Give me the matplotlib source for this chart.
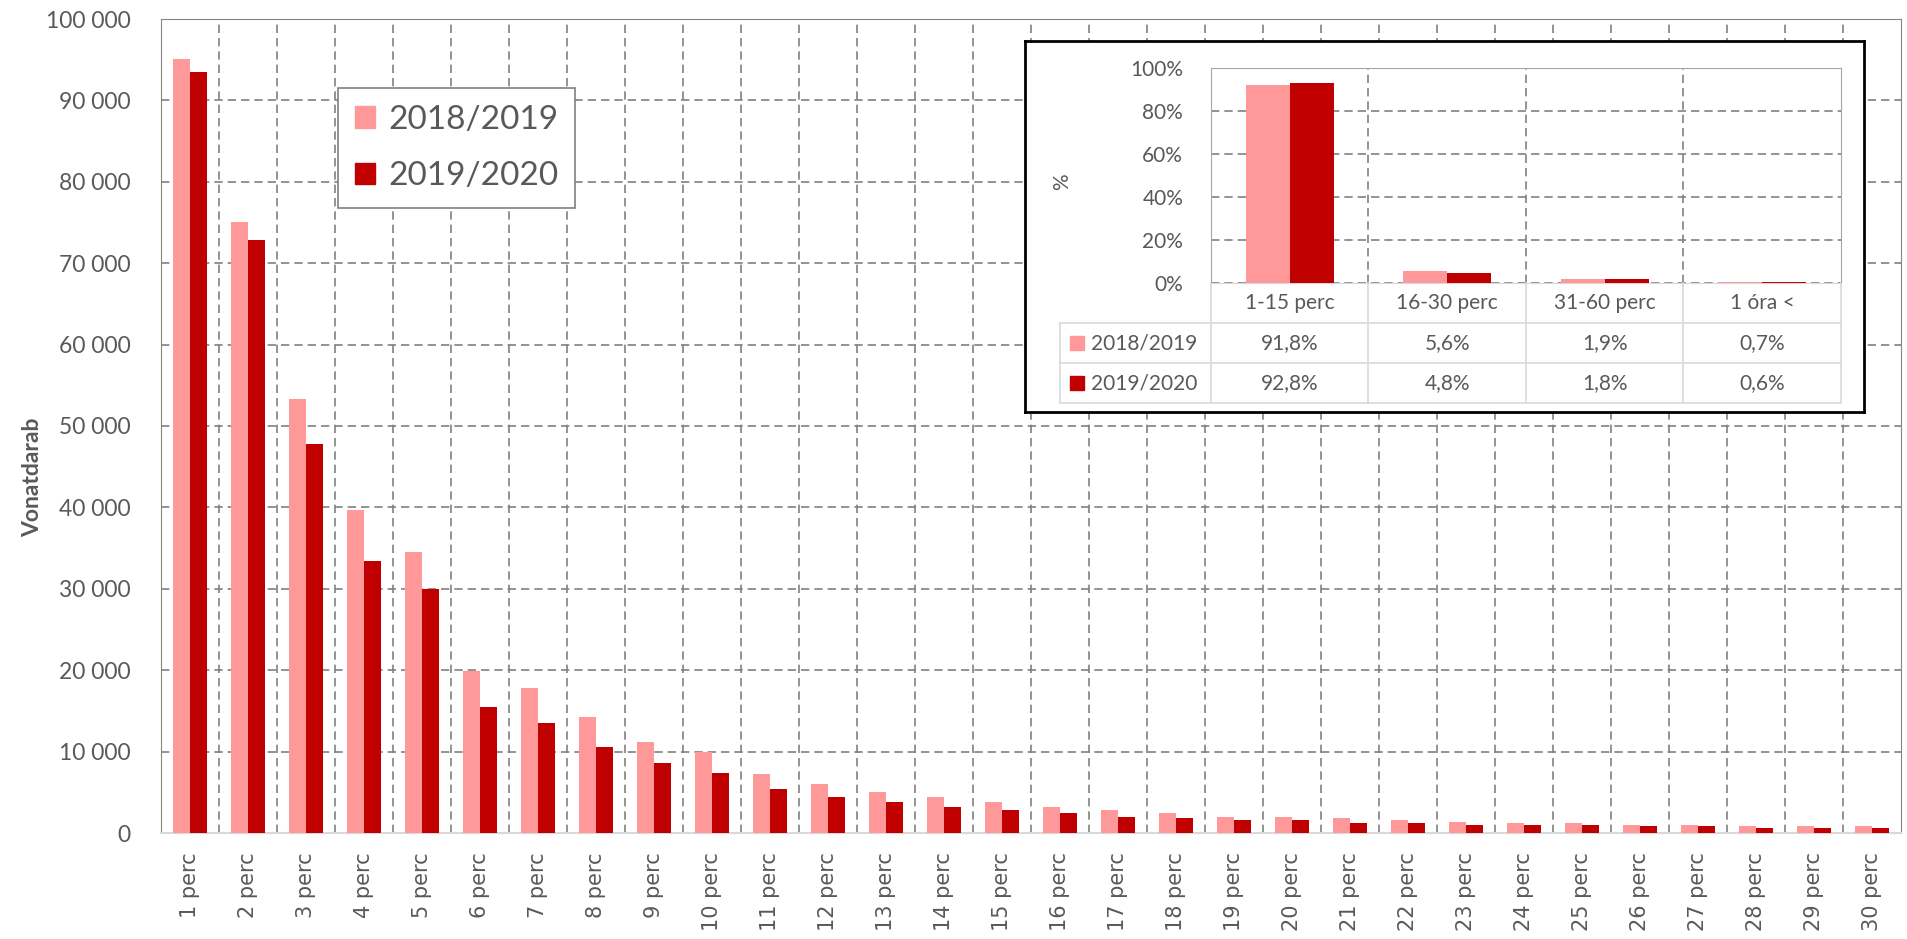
import numpy as np
import matplotlib.pyplot as plt
from matplotlib.transforms import blended_transform_factory
from matplotlib.patches import Patch

# main chart data: number of trains per delay minute
cats = [str(i) + " perc" for i in range(1, 31)]
v1819 = [95050, 75100, 53300, 39650, 34500, 19900, 17850, 14300, 11150, 9950,
         7230, 6080, 5040, 4470, 3850, 3230, 2850, 2430, 2020, 2020,
         1810, 1610, 1400, 1240, 1240, 1030, 1030, 820, 820, 820]
v1920 = [93500, 72900, 47850, 33450, 29950, 15500, 13500, 10600, 8550, 7400,
         5460, 4470, 3850, 3230, 2850, 2430, 1980, 1810, 1610, 1610,
         1240, 1240, 1030, 1030, 1030, 820, 820, 620, 620, 620]
series = ["2018/2019", "2019/2020"]

# inset data: share per delay band
bands = ["1-15 perc", "16-30 perc", "31-60 perc", "1 óra <"]
p1819 = [91.8, 5.6, 1.9, 0.7]
p1920 = [92.8, 4.8, 1.8, 0.6]

pink = "#FF9999"
dark = "#C00000"
txt = "#595959"
grid_kw = dict(color="#808080", linestyle=(0, (5, 3)), linewidth=1.2)

plt.rcParams["font.family"] = ["Lato", "DejaVu Sans"]

fig = plt.figure(figsize=(19.08, 9.39), dpi=100)

###################### main bar chart ######################
ax = fig.add_axes([161/1908, 1 - 833/939, 1740/1908, 814/939])
x = np.arange(len(cats))
ax.bar(x - 0.15, v1819, width=0.3, color=pink, label=series[0], zorder=3)
ax.bar(x + 0.15, v1920, width=0.3, color=dark, label=series[1], zorder=3)

ax.set_xlim(-0.5, len(cats) - 0.5)
ax.set_ylim(0, 100000)
ax.set_yticks(np.arange(0, 100001, 10000))
ax.set_yticklabels([f"{v:,.0f}".replace(",", " ") for v in range(0, 100001, 10000)],
                   fontsize=16.5, color=txt)
ax.set_xticks(x)
ax.set_xticklabels(cats, rotation=90, fontsize=15, color=txt, family="DejaVu Sans")
ax.set_xticks(np.arange(0.5, len(cats) - 1, 1), minor=True)
ax.tick_params(axis="both", which="both", length=0)
ax.tick_params(axis="y", pad=22)
ax.tick_params(axis="x", pad=14)
ax.yaxis.grid(True, **grid_kw)
ax.xaxis.grid(True, which="minor", **grid_kw)
ax.set_axisbelow(True)
for s in ["left", "top", "right"]:
    ax.spines[s].set_color("#868686")
ax.spines["bottom"].set_color("#D9D9D9")
ax.spines["bottom"].set_linewidth(1.5)
ax.set_ylabel("Vonatdarab", fontsize=16.5, fontweight="bold", color=txt)
ax.yaxis.set_label_coords(-0.068, 0.437)

handles = [Patch(color=pink, label=series[0]), Patch(color=dark, label=series[1])]
leg = fig.legend(handles=handles, loc="upper left", bbox_to_anchor=(338/1908, 1 - 88/939),
                 fontsize=24, fancybox=False, edgecolor="#808080", framealpha=1,
                 handlelength=0.6, handleheight=0.6, handletextpad=0.4,
                 labelspacing=0.8, borderpad=0.5, borderaxespad=0)
for t in leg.get_texts():
    t.set_color(txt)
leg.get_frame().set_linewidth(1.2)

###################### inset box ######################
box = fig.add_axes([1025/1908, 1 - 412/939, 839/1908, 371/939], zorder=5)
box.set_xticks([])
box.set_yticks([])
for s in box.spines.values():
    s.set_color("black")
    s.set_linewidth(2)

ins = fig.add_axes([1211/1908, 1 - 283.3/939, 630/1908, 215.6/939], zorder=6)
xi = np.arange(len(bands))
ins.bar(xi - 0.14, p1819, width=0.28, color=pink, zorder=3)
ins.bar(xi + 0.14, p1920, width=0.28, color=dark, zorder=3)
ins.set_xlim(-0.5, len(bands) - 0.5)
ins.set_ylim(0, 100)
ins.set_yticks(np.arange(0, 101, 20))
ins.set_yticklabels([f"{v}%" for v in range(0, 101, 20)], fontsize=15, color=txt)
ins.set_xticks([])
ins.set_xticks(np.arange(0.5, len(bands) - 1, 1), minor=True)
ins.tick_params(axis="both", which="both", length=0)
ins.tick_params(axis="y", pad=20)
ins.yaxis.grid(True, **grid_kw)
ins.xaxis.grid(True, which="minor", **grid_kw)
ins.set_axisbelow(True)
for s in ins.spines.values():
    s.set_color("#A6A6A6")
ins.spines["bottom"].set_color("#D9D9D9")
ins.set_ylabel("%", fontsize=15, color=txt)
ins.yaxis.set_label_coords(-0.22, 0.47)

# data table under the inset chart
tr = blended_transform_factory(ins.transData, ins.transAxes)
rh = 40 / 215.6
left = -0.5 - 151 / 157.5
line_kw = dict(color="#D9D9D9", linewidth=1.2, transform=tr, clip_on=False)
for i, b in enumerate(bands):
    ins.text(i, -rh / 2, b, transform=tr, ha="center", va="center", fontsize=15, color=txt)
for r, (name, vals, col) in enumerate([(series[0], p1819, pink), (series[1], p1920, dark)]):
    yc = -rh * (r + 1.5)
    ins.plot([left + 0.105], [yc], marker="s", ms=10, color=col, transform=tr, clip_on=False)
    ins.text(left + 0.2, yc, name, transform=tr, ha="left", va="center", fontsize=15, color=txt)
    for i, v in enumerate(vals):
        ins.text(i, yc, f"{v:.1f}%".replace(".", ","), transform=tr, ha="center", va="center",
                 fontsize=15, color=txt)
for k in range(1, 4):
    ins.plot([left, len(bands) - 0.5], [-rh * k, -rh * k], **line_kw)
for xb in np.arange(-0.5, len(bands), 1):
    ins.plot([xb, xb], [0, -3 * rh], **line_kw)
ins.plot([left, left], [-rh, -3 * rh], **line_kw)

fig.savefig("out.png", dpi=100)
